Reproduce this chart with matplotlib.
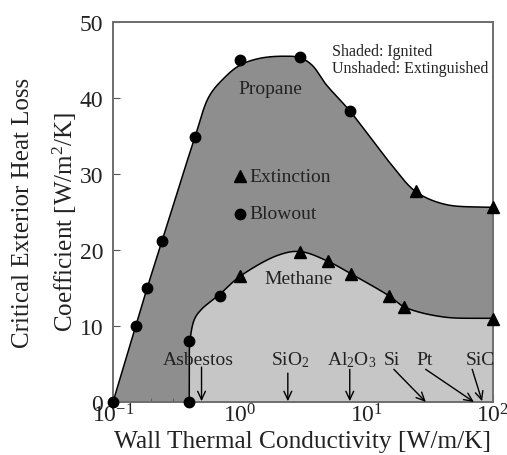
import numpy as np
import matplotlib
matplotlib.use("Agg")
import matplotlib.pyplot as plt

plt.rcParams['font.family'] = ['Liberation Serif', 'DejaVu Serif']
plt.rcParams['mathtext.fontset'] = 'custom'
plt.rcParams['mathtext.rm'] = 'Liberation Serif'
plt.rcParams['mathtext.it'] = 'Liberation Serif:italic'
plt.rcParams['mathtext.bf'] = 'Liberation Serif:bold'

# ---- data ----
# Propane blowout (circles) and extinction (triangles)
propane_blow_x = [0.1, 0.151, 0.186, 0.244, 0.444, 1.0, 3.0, 7.4]
propane_blow_y = [0.0, 10.0, 15.0, 21.2, 34.9, 45.0, 45.4, 38.3]
propane_ext_x = [24.5, 100.0]
propane_ext_y = [27.7, 25.6]
# Methane blowout (circles) and extinction (triangles)
methane_blow_x = [0.4, 0.4, 0.7]
methane_blow_y = [0.0, 8.0, 14.0]
methane_ext_x = [1.0, 3.0, 5.0, 7.5, 15.0, 20.0, 100.0]
methane_ext_y = [16.6, 19.8, 18.5, 16.9, 13.9, 12.5, 10.9]
# Boundary curves
propane_curve_x = [0.1, 0.151, 0.186, 0.244, 0.444, 0.573, 0.75, 1.0, 1.42, 2.2, 3.0, 3.74,
                   4.8, 7.4, 16.0, 24.5, 42.0, 100.0]
propane_curve_y = [0.0, 10.0, 15.0, 21.2, 34.9, 40.2, 42.6, 44.3, 45.2, 45.5, 45.3, 44.3,
                   41.8, 38.3, 31.1, 27.7, 26.0, 25.6]
methane_curve_x = [0.4, 0.4, 0.405, 0.44, 0.5, 0.7, 1.0, 2.0, 3.0, 5.0, 7.5, 15.0, 20.0, 40.0, 100.0]
methane_curve_y = [0.0, 4.0, 8.0, 10.9, 12.2, 14.2, 16.5, 19.3, 19.8, 18.5, 16.9, 14.0, 12.5, 11.2, 11.0]
# Materials: label, label position, arrow tail, arrow tip
materials = ['Asbestos', 'SiO$_2$', 'Al$_2$O$_3$', 'Si', 'Pt', 'SiC']
material_label_x = [0.47, 2.5, 7.6, 16.0, 29.0, 80.0]
material_tail_x = [0.5, 2.4, 7.4, 16.5, 29.4, 68.5]
material_tail_y = [4.6, 3.8, 4.3, 4.3, 4.3, 4.3]
material_tip_x = [0.5, 2.4, 7.4, 29.5, 70.7, 82.0]
material_tip_y = [0.1, 0.1, 0.1, 0.0, 0.0, 0.1]
x_ticks = [0.1, 1, 10, 100]
x_tick_labels = ['10$^{-1}$', '10$^{0}$', '10$^{1}$', '10$^{2}$']
y_ticks = [0, 10, 20, 30, 40, 50]

# ---- smooth curve through points (parametric Catmull-Rom in screen-like space) ----
def smooth(xs, ys, n=30):
    u = np.log10(np.asarray(xs, float)) * (126.7 / 7.6)
    v = np.asarray(ys, float)
    P = np.column_stack([u, v])
    P = np.vstack([2 * P[0] - P[1], P, 2 * P[-1] - P[-2]])
    out = []
    alpha = 0.5
    for i in range(1, len(P) - 2):
        p0, p1, p2, p3 = P[i - 1], P[i], P[i + 1], P[i + 2]
        t0 = 0.0
        t1 = t0 + max(np.linalg.norm(p1 - p0), 1e-6) ** alpha
        t2 = t1 + max(np.linalg.norm(p2 - p1), 1e-6) ** alpha
        t3 = t2 + max(np.linalg.norm(p3 - p2), 1e-6) ** alpha
        t = np.linspace(t1, t2, n)[:, None]
        A1 = (t1 - t) / (t1 - t0) * p0 + (t - t0) / (t1 - t0) * p1
        A2 = (t2 - t) / (t2 - t1) * p1 + (t - t1) / (t2 - t1) * p2
        A3 = (t3 - t) / (t3 - t2) * p2 + (t - t2) / (t3 - t2) * p3
        B1 = (t2 - t) / (t2 - t0) * A1 + (t - t0) / (t2 - t0) * A2
        B2 = (t3 - t) / (t3 - t1) * A2 + (t - t1) / (t3 - t1) * A3
        C = (t2 - t) / (t2 - t1) * B1 + (t - t1) / (t2 - t1) * B2
        out.append(C if i == 1 else C[1:])
    C = np.vstack(out)
    return 10 ** (C[:, 0] / (126.7 / 7.6)), C[:, 1]

px, py = smooth(propane_curve_x, propane_curve_y)
mx, my = smooth(methane_curve_x, methane_curve_y)

fig = plt.figure(figsize=(5.07, 4.56), dpi=100)
ax = fig.add_axes([113 / 507, 1 - 403 / 456, 380 / 507, 380 / 456])
ax.set_xscale('log')
ax.set_xlim(0.1, 100)
ax.set_ylim(0, 50)

dark = '#8e8e8e'
light = '#c6c6c6'
ax.fill(np.concatenate([px, [100, 0.1]]), np.concatenate([py, [0, 0]]),
        color=dark, lw=0, zorder=1)
ax.fill(np.concatenate([mx, [100]]), np.concatenate([my, [0]]),
        color=light, lw=0, zorder=2)
ax.plot(px, py, color='black', lw=1.1, zorder=3)
ax.plot(mx, my, color='black', lw=1.1, zorder=3)

ms_c = 7.5
ms_t = 8
ax.plot(propane_blow_x, propane_blow_y, 'o', color='black', ms=ms_c, zorder=5, clip_on=False)
ax.plot(propane_ext_x, propane_ext_y, '^', color='black', ms=ms_t, zorder=5, clip_on=False)
ax.plot(methane_blow_x, methane_blow_y, 'o', color='black', ms=ms_c, zorder=5, clip_on=False)
ax.plot(methane_ext_x, methane_ext_y, '^', color='black', ms=ms_t, zorder=5, clip_on=False)

tc = '#222222'
# legend inside
ax.plot([1.0], [29.7], '^', color='black', ms=ms_t, zorder=5)
ax.text(1.2, 29.7, 'Extinction', fontsize=14, va='center', ha='left', color=tc)
ax.plot([1.0], [24.8], 'o', color='black', ms=ms_c, zorder=5)
ax.text(1.2, 24.8, 'Blowout', fontsize=14, va='center', ha='left', color=tc)

ax.text(1.75, 41.2, 'Propane', fontsize=14, ha='center', va='center', color=tc)
ax.text(2.9, 16.2, 'Methane', fontsize=14, ha='center', va='center', color=tc)
ax.text(0.577, 0.945, 'Shaded: Ignited\nUnshaded: Extinguished', transform=ax.transAxes,
        fontsize=11.5, ha='left', va='top', linespacing=1.05, color=tc)

for lab, lx, tx, ty, hx, hy in zip(materials, material_label_x, material_tail_x,
                                   material_tail_y, material_tip_x, material_tip_y):
    ax.text(lx, 5.6, lab, fontsize=14, ha='center', va='center', color=tc, zorder=6)
    ax.annotate('', xy=(hx, hy), xytext=(tx, ty),
                arrowprops=dict(arrowstyle='->,head_length=0.6,head_width=0.28',
                                color='black', lw=1.0, shrinkA=0, shrinkB=0), zorder=6)

ax.set_xticks(x_ticks)
ax.set_xticklabels(x_tick_labels)
ax.set_yticks(y_ticks)
ax.tick_params(axis='both', which='both', direction='in', labelsize=17, colors='#555555',
               labelcolor=tc, top=False, right=False)
ax.tick_params(axis='x', which='major', length=6, pad=1)
ax.tick_params(axis='x', which='minor', length=3)
ax.tick_params(axis='y', which='major', length=5, pad=7)
for s in ax.spines.values():
    s.set_color('#6e6e6e')
    s.set_linewidth(1.4)

fig.text(302 / 507, 1 - 442 / 456, 'Wall Thermal Conductivity [W/m/K]', fontsize=18.3,
         ha='center', va='center', color=tc)
fig.text(23 / 507, 1 - 213 / 456, 'Critical Exterior Heat Loss', fontsize=18,
         ha='center', va='center', rotation=90, color=tc)
fig.text(65 / 507, 1 - 222 / 456, 'Coefficient [W/m$^2$/K]', fontsize=18,
         ha='center', va='center', rotation=90, color=tc)

fig.savefig('out.png', dpi=100)
